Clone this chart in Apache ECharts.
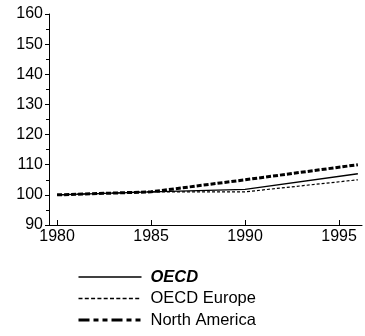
<!DOCTYPE html>
<html><head><meta charset="utf-8">
<script src="https://cdn.jsdelivr.net/npm/echarts@6/dist/echarts.min.js"></script>
<style>html,body{margin:0;padding:0;background:#fff}#c{width:365px;height:336px}</style>
</head><body><div id="c"></div>
<script>
const years = [1980, 1985, 1990, 1996];
const oecd = [100, 101, 101.8, 107];
const oecdEurope = [100, 101, 101, 105];
const northAmerica = [100, 101, 105, 110];
const xTicks = [1980, 1985, 1990, 1995];
const seriesNames = ['OECD', 'OECD Europe', 'North America'];

const pairs = a => years.map((y, i) => [y, a[i]]);
const chart = echarts.init(document.getElementById('c'), null, {renderer: 'canvas'});
const font = 'Liberation Sans, Arial, sans-serif';
chart.setOption({
  backgroundColor: '#fff',
  animation: false,
  grid: {left: 49, right: 3, top: 14, bottom: 111},
  xAxis: {
    type: 'value', min: 1979.57, max: 1996.22,
    axisLine: {lineStyle: {color: '#000', width: 1}},
    axisTick: {inside: true, length: 5, customValues: xTicks, lineStyle: {color: '#000'}},
    axisLabel: {customValues: xTicks, color: '#000', fontSize: 16, fontFamily: font, margin: 4,
                formatter: v => String(v)},
    splitLine: {show: false}
  },
  yAxis: {
    type: 'value', min: 90, max: 160, interval: 10,
    axisLine: {show: true, lineStyle: {color: '#000', width: 1}},
    axisTick: {show: true, length: 4, lineStyle: {color: '#000'}},
    minorTick: {show: true, splitNumber: 2, length: 3, lineStyle: {color: '#000'}},
    axisLabel: {color: '#000', fontSize: 16, fontFamily: font, margin: 6},
    splitLine: {show: false}
  },
  legend: {
    orient: 'vertical', left: 77, top: 268.5, height: 67, padding: 0,
    itemWidth: 63, itemHeight: 14, itemGap: 4.5,
    itemStyle: {opacity: 0},
    textStyle: {color: '#000', fontSize: 16.5, fontFamily: font, padding: [0,0,0,4]},
    data: [
      {name: seriesNames[0], textStyle: {fontWeight: 'bold', fontStyle: 'italic'},
       lineStyle: {width: 1.6, type: 'solid'}},
      {name: seriesNames[1], lineStyle: {width: 1.3, type: [4, 2.3]}},
      {name: seriesNames[2], lineStyle: {width: 3, type: [11, 4, 5, 4, 5, 4]}}
    ]
  },
  series: [
    {name: seriesNames[0], type: 'line', data: pairs(oecd), symbol: 'none', color: '#000',
     lineStyle: {color: '#000', width: 1.3, type: 'solid'}},
    {name: seriesNames[1], type: 'line', data: pairs(oecdEurope), symbol: 'none', color: '#000',
     lineStyle: {color: '#000', width: 1.2, type: [3, 2]}},
    {name: seriesNames[2], type: 'line', data: pairs(northAmerica), symbol: 'none', color: '#000',
     lineStyle: {color: '#000', width: 3, type: [5, 2]}}
  ]
});
</script></body></html>
